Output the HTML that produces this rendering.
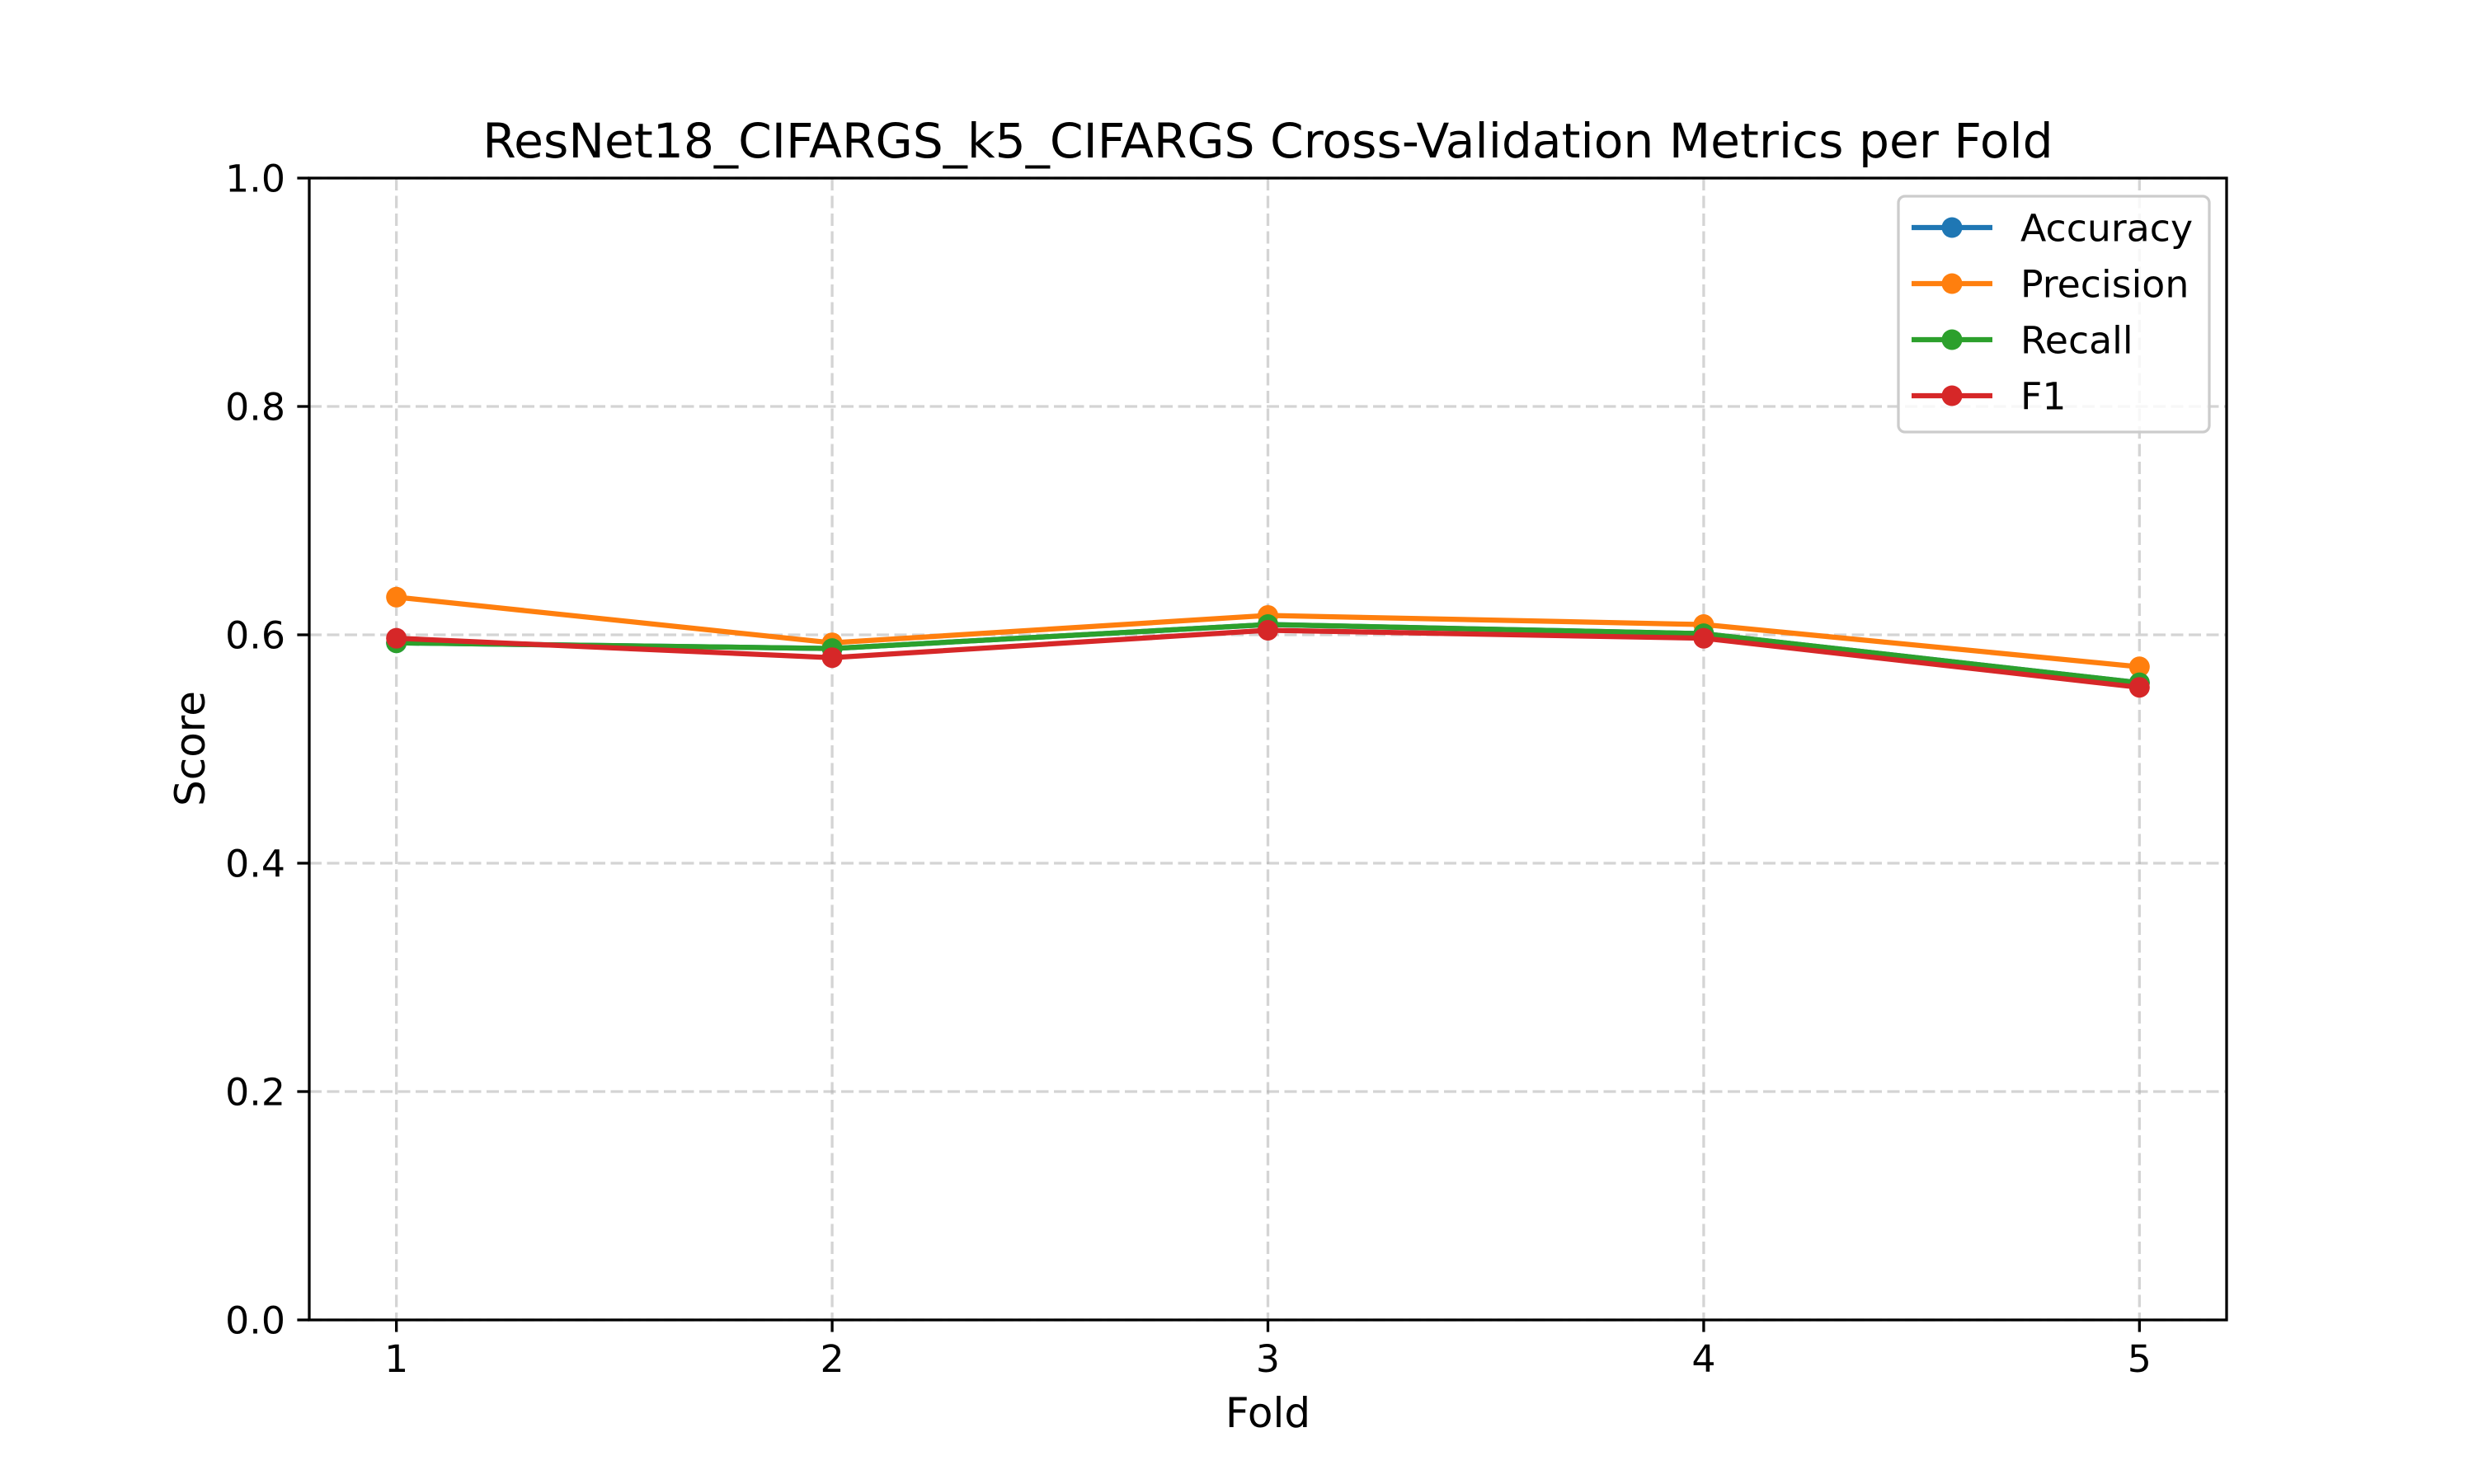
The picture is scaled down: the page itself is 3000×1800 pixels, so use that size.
<!DOCTYPE html>
<html><head><meta charset="utf-8"><style>
html,body{margin:0;padding:0;background:#fff}
svg{display:block;font-family:"DejaVu Sans","Liberation Sans",sans-serif}
</style></head><body>
<svg id="chart" width="3000" height="1800" viewBox="0 0 3000 1800" xmlns="http://www.w3.org/2000/svg">
<rect x="0" y="0" width="3000" height="1800" fill="#fff"/>
<g id="grid"></g>
<g id="series"></g>
<g id="axes"></g>
<text x="1537.5" y="191" font-size="58.3" text-anchor="middle">ResNet18_CIFARGS_k5_CIFARGS Cross-Validation Metrics per Fold</text>
<text x="1537.5" y="1731" font-size="50" text-anchor="middle">Fold</text>
<text transform="translate(248,908) rotate(-90)" font-size="50" text-anchor="middle">Score</text>
<g id="legend"></g>
</svg>
<script>
const folds = [1, 2, 3, 4, 5];
const accuracy = [0.593, 0.588, 0.609, 0.601, 0.558];
const precision = [0.633, 0.593, 0.617, 0.609, 0.572];
const recall = [0.593, 0.588, 0.609, 0.601, 0.558];
const f1 = [0.597, 0.580, 0.604, 0.597, 0.554];
const seriesNames = ["Accuracy", "Precision", "Recall", "F1"];
const yTicks = [0.0, 0.2, 0.4, 0.6, 0.8, 1.0];
const yTickLabels = ["0.0", "0.2", "0.4", "0.6", "0.8", "1.0"];
const xTickLabels = ["1", "2", "3", "4", "5"];

const NS = "http://www.w3.org/2000/svg";
const L = 375, R = 2700, T = 216, B = 1601;
const xMin = 0.8, xMax = 5.2, yMin = 0, yMax = 1;
const xs = v => L + (v - xMin) / (xMax - xMin) * (R - L);
const ys = v => B - (v - yMin) / (yMax - yMin) * (B - T);
function mk(tag, attrs, parent) {
  const e = document.createElementNS(NS, tag);
  for (const k in attrs) e.setAttribute(k, attrs[k]);
  parent.appendChild(e);
  return e;
}
const grid = document.getElementById('grid');
const axes = document.getElementById('axes');
const seriesG = document.getElementById('series');
const legend = document.getElementById('legend');

folds.forEach((f, i) => {
  const x = xs(f);
  const g = mk('line', {x1: x, x2: x, y1: T, y2: B, stroke: '#b0b0b0', 'stroke-opacity': 0.55, 'stroke-width': 3.3, 'stroke-dasharray': '15,6.5'}, grid);
  
  
  const t = mk('line', {x1: x, x2: x, y1: B, y2: B + 14.6, stroke: '#000', 'stroke-width': 3.3}, axes);
  
  
  const lb = mk('text', {x: x, y: B + 29 + 34, 'font-size': 45.8, 'text-anchor': 'middle'}, axes);
  lb.textContent = xTickLabels[i];
  
  
});
yTicks.forEach((v, i) => {
  const y = ys(v);
  const g = mk('line', {x1: L, x2: R, y1: y, y2: y, stroke: '#b0b0b0', 'stroke-opacity': 0.55, 'stroke-width': 3.3, 'stroke-dasharray': '15,6.5'}, grid);
  
  
  const t = mk('line', {x1: L - 14.6, x2: L, y1: y, y2: y, stroke: '#000', 'stroke-width': 3.3}, axes);
  
  
  const lb = mk('text', {x: L - 29, y: y + 16.5, 'font-size': 45.8, 'text-anchor': 'end'}, axes);
  lb.textContent = yTickLabels[i];
  
  
});
const frame = mk('rect', {x: L, y: T, width: R - L, height: B - T, fill: 'none', stroke: '#000', 'stroke-width': 3.3}, axes);



const allSeries = [accuracy, precision, recall, f1];
const colors = ['#1f77b4', '#ff7f0e', '#2ca02c', '#d62728'];
allSeries.forEach((vals, si) => {
  const g = mk('g', {}, seriesG);
  
  
  const pts = vals.map((v, i) => xs(folds[i]) + ',' + ys(v)).join(' ');
  const pl = mk('polyline', {points: pts, fill: 'none', stroke: colors[si], 'stroke-width': 6.25, 'stroke-linejoin': 'round', 'stroke-linecap': 'square'}, g);
  
  
  vals.forEach((v, i) => {
    const c = mk('circle', {cx: xs(folds[i]), cy: ys(v), r: 12.5, fill: colors[si]}, g);
    
    
  });
});

const box = mk('rect', {x: 2302, y: 238, width: 377, height: 286, rx: 8, fill: '#fff', 'fill-opacity': 0.8, stroke: '#cccccc', 'stroke-width': 3.3}, legend);


seriesNames.forEach((n, i) => {
  const y = 276 + i * 68;
  const g = mk('g', {}, legend);
  
  
  mk('line', {x1: 2318, x2: 2416, y1: y, y2: y, stroke: colors[i], 'stroke-width': 6.25}, g);
  mk('circle', {cx: 2367, cy: y, r: 12.5, fill: colors[i]}, g);
  const t = mk('text', {x: 2450, y: y + 16.5, 'font-size': 45.8}, g);
  t.textContent = n;
});
</script>
</body></html>
